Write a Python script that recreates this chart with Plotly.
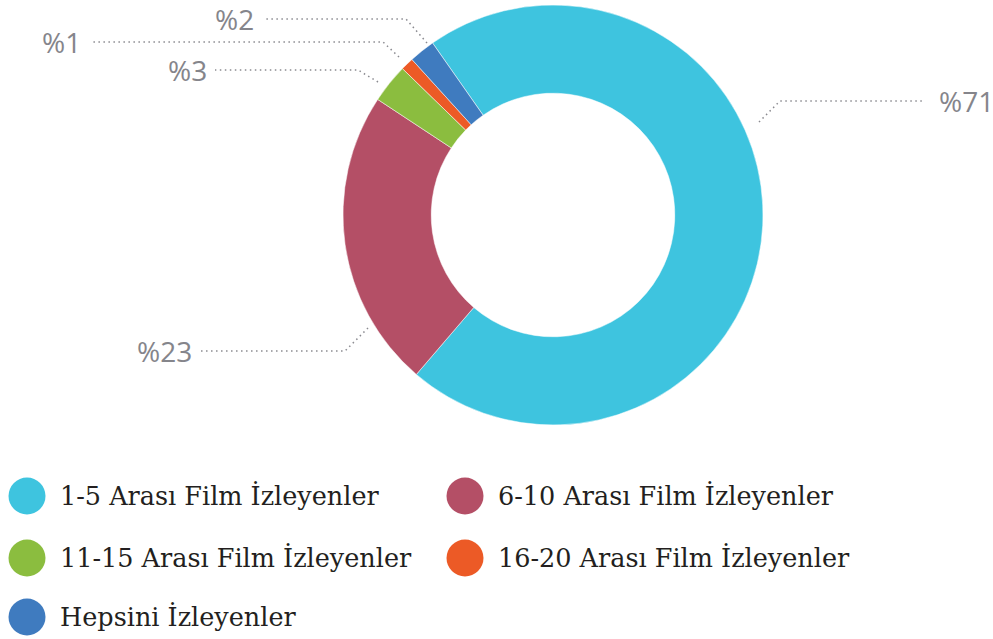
import plotly.graph_objects as go

# ---- data ----
categories = ["1-5 Arası Film İzleyenler", "6-10 Arası Film İzleyenler",
              "11-15 Arası Film İzleyenler", "16-20 Arası Film İzleyenler",
              "Hepsini İzleyenler"]
values = [71, 23, 3, 1, 2]
colors = ["#3ec4df", "#b44f66", "#8bbd3f", "#ec5a26", "#3f7bbf"]

# ---- layout helpers (pixels -> paper) ----
W, H = 993, 639
def px(x): return x / W
def py(y): return 1 - y / H

# leader-line geometry per slice (start, elbow, end) and label anchor, in pixels
leaders = [
    ((759, 122), (780, 101), (925, 101), (937, 101, "left")),
    ((368, 328), (345, 351), (198, 351), (194, 351, "right")),
    ((378, 82), (358, 70), (215, 70), (209, 70, "right")),
    ((399, 57), (383, 42), (91, 42), (83, 42, "right")),
    ((427, 43), (406, 19), (264, 19), (256, 19, "right")),
]

cx, cy, R = 553, 215, 210

fig = go.Figure()
fig.add_trace(go.Pie(
    values=values, labels=categories, sort=False, direction="clockwise",
    rotation=-35, hole=0.58, textinfo="none", hoverinfo="label+percent",
    marker=dict(colors=colors, line=dict(color="white", width=0.5)),
    domain=dict(x=[px(cx - R), px(cx + R)], y=[py(cy + R), py(cy - R)]),
    showlegend=False,
))

shapes, annotations = [], []
for v, (s, e, t, lab) in zip(values, leaders):
    shapes.append(dict(type="path", xref="paper", yref="paper",
                       path=f"M {px(s[0])} {py(s[1])} L {px(e[0])} {py(e[1])} L {px(t[0])} {py(t[1])}",
                       line=dict(color="#8a8a90", width=1.5, dash="1.5px,3.5px")))
    annotations.append(dict(x=px(lab[0]), y=py(lab[1]), xref="paper", yref="paper",
                            text=f"%{v}", showarrow=False, xanchor=lab[2], yanchor="middle",
                            font=dict(family="Open Sans", size=28, color="#85858b")))

# custom legend (two columns)
leg_pos = [(27, 496), (465, 496), (27, 558), (465, 558), (27, 617)]
for cat, col, (lx, ly) in zip(categories, colors, leg_pos):
    r = 18.5
    shapes.append(dict(type="circle", xref="paper", yref="paper",
                       x0=px(lx - r), x1=px(lx + r), y0=py(ly + r), y1=py(ly - r),
                       fillcolor=col, line=dict(width=0)))
    annotations.append(dict(x=px(lx + 31), y=py(ly), xref="paper", yref="paper",
                            text=cat, showarrow=False, xanchor="left", yanchor="middle",
                            font=dict(family="DejaVu Serif", size=25.5, color="#231f20")))

fig.update_layout(
    width=W, height=H, margin=dict(l=0, r=0, t=0, b=0),
    paper_bgcolor="white", plot_bgcolor="white",
    shapes=shapes, annotations=annotations,
)
fig.write_html("out.html", config={"displayModeBar": False},
               post_script="document.body.style.margin='0';")
